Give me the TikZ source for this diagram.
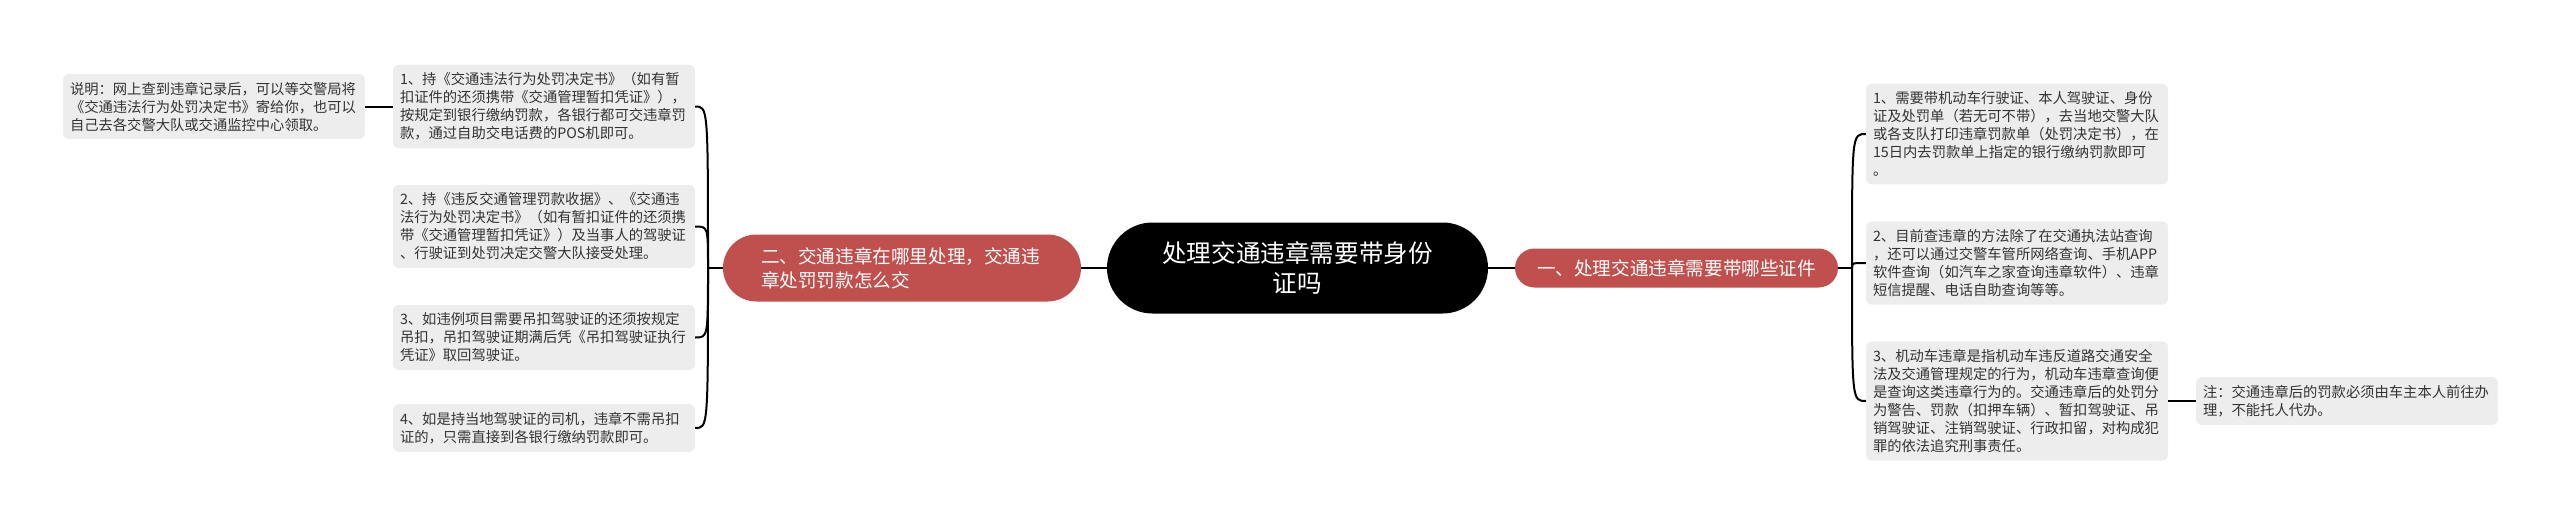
\documentclass[tikz,border=0pt]{standalone}
\usepackage{fontspec}
\setmainfont{Noto Sans CJK SC}
\usetikzlibrary{shapes.misc}
\definecolor{branchred}{HTML}{C0504D}
\definecolor{leafgray}{HTML}{EDEDED}
\definecolor{leaftext}{HTML}{333333}
\begin{document}
\begin{tikzpicture}[x=1pt,y=-1pt,
    leaf/.style={fill=leafgray, rounded corners=6pt, text=leaftext, align=left,
      text width=288pt, inner xsep=7pt, inner ysep=8pt,
      font=\fontsize{14.3}{18}\selectfont},
    branch/.style={rounded rectangle, fill=branchred, text=white, inner sep=0pt,
      font=\fontsize{18.6}{24}\selectfont},
    root/.style={rounded rectangle, fill=black, text=white, align=center,
      minimum width=381pt, minimum height=91pt, inner sep=0pt,
      font=\fontsize{24.6}{30}\selectfont},
    link/.style={line width=2pt, black}]
  \useasboundingbox (0,0) rectangle (2560,527);
  % centre and main branches
  \node[root] (root) at (1297.5,268) {处理交通违章需要带身份\\证吗};
  \node[branch, align=left, text width=282pt, minimum width=358pt, minimum height=67pt]
    (lb) at (902,268) {二、交通违章在哪里处理，交通违\\章处罚罚款怎么交};
  \node[branch, minimum width=323pt, minimum height=39pt]
    (rb) at (1676.5,268) {一、处理交通违章需要带哪些证件};
  % left leaves
  \node[leaf] (l1) at (544,106.5) {1、持《交通违法行为处罚决定书》（如有暂\\扣证件的还须携带《交通管理暂扣凭证》），\\按规定到银行缴纳罚款，各银行都可交违章罚\\款，通过自助交电话费的POS机即可。};
  \node[leaf] (l2) at (544,226.5) {2、持《违反交通管理罚款收据》、《交通违\\法行为处罚决定书》（如有暂扣证件的还须携\\带《交通管理暂扣凭证》）及当事人的驾驶证\\、行驶证到处罚决定交警大队接受处理。};
  \node[leaf] (l3) at (544,337.5) {3、如违例项目需要吊扣驾驶证的还须按规定\\吊扣，吊扣驾驶证期满后凭《吊扣驾驶证执行\\凭证》取回驾驶证。};
  \node[leaf] (l4) at (544,428) {4、如是持当地驾驶证的司机，违章不需吊扣\\证的，只需直接到各银行缴纳罚款即可。};
  \node[leaf] (ln) at (214,106.5) {说明：网上查到违章记录后，可以等交警局将\\《交通违法行为处罚决定书》寄给你，也可以\\自己去各交警大队或交通监控中心领取。};
  % right leaves
  \node[leaf] (r1) at (2017,134) {1、需要带机动车行驶证、本人驾驶证、身份\\证及处罚单（若无可不带），去当地交警大队\\或各支队打印违章罚款单（处罚决定书），在\\15日内去罚款单上指定的银行缴纳罚款即可\\。};
  \node[leaf] (r2) at (2017,263) {2、目前查违章的方法除了在交通执法站查询\\，还可以通过交警车管所网络查询、手机APP\\软件查询（如汽车之家查询违章软件）、违章\\短信提醒、电话自助查询等等。};
  \node[leaf] (r3) at (2017,401) {3、机动车违章是指机动车违反道路交通安全\\法及交通管理规定的行为，机动车违章查询便\\是查询这类违章行为的。交通违章后的处罚分\\为警告、罚款（扣押车辆）、暂扣驾驶证、吊\\销驾驶证、注销驾驶证、行政扣留，对构成犯\\罪的依法追究刑事责任。};
  \node[leaf] (rn) at (2347,401) {注：交通违章后的罚款必须由车主本人前往办\\理，不能托人代办。};
  % links
  \draw[link] (root.west) -- (lb.east);
  \draw[link] (root.east) -- (rb.west);
  \coordinate (lspine) at (708,268);
  \coordinate (rspine) at (1852,268);
  \draw[link] (lb.west) -- (lspine);
  \draw[link] (rb.east) -- (rspine);
  \foreach \n in {l1,l2,l3,l4}
    \draw[link] (lspine) .. controls (lspine |- \n.east) .. (\n.east);
  \foreach \n in {r1,r2,r3}
    \draw[link] (rspine) .. controls (rspine |- \n.west) .. (\n.west);
  \draw[link] (l1.west) -- (ln.east);
  \draw[link] (r3.east) -- (rn.west);
\end{tikzpicture}
\end{document}
